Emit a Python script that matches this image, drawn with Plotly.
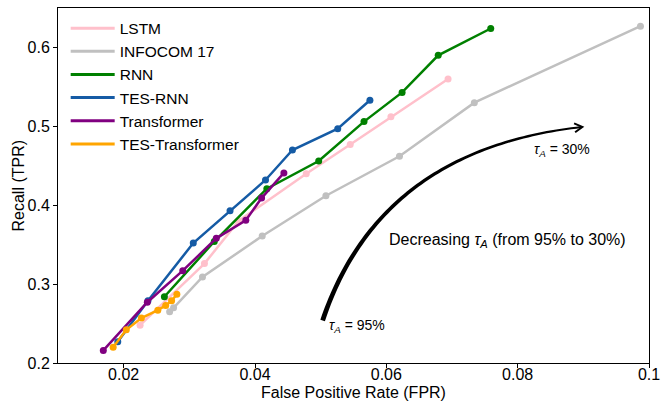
import numpy as np
import plotly.graph_objects as go

# ROC-style operating points (FPR, TPR) for each detector
series_names = ["LSTM", "INFOCOM 17", "RNN", "TES-RNN", "Transformer", "TES-Transformer"]

lstm_fpr = [0.0225, 0.0323, 0.0375, 0.0478, 0.0545, 0.0607, 0.0694]
lstm_tpr = [0.248, 0.326, 0.380, 0.440, 0.477, 0.512, 0.560]

infocom_fpr = [0.0270, 0.0276, 0.0320, 0.0411, 0.0508, 0.0620, 0.0734, 0.0987]
infocom_tpr = [0.265, 0.270, 0.309, 0.361, 0.412, 0.462, 0.530, 0.627]

rnn_fpr = [0.0262, 0.0338, 0.0418, 0.0497, 0.0566, 0.0624, 0.0679, 0.0759]
rnn_tpr = [0.284, 0.354, 0.421, 0.456, 0.506, 0.543, 0.590, 0.624]

tes_rnn_fpr = [0.0191, 0.0237, 0.0306, 0.0362, 0.0416, 0.0457, 0.0526, 0.0575]
tes_rnn_tpr = [0.227, 0.279, 0.352, 0.393, 0.432, 0.470, 0.497, 0.533]

transformer_fpr = [0.0169, 0.0236, 0.0290, 0.0341, 0.0386, 0.0410, 0.0444]
transformer_tpr = [0.216, 0.277, 0.317, 0.358, 0.381, 0.409, 0.441]

tes_transformer_fpr = [0.0184, 0.0204, 0.0227, 0.0252, 0.0264, 0.0273, 0.0281]
tes_transformer_tpr = [0.220, 0.242, 0.257, 0.267, 0.273, 0.279, 0.287]

x_ticks = [0.02, 0.04, 0.06, 0.08, 0.1]
x_tick_text = ["0.02", "0.04", "0.06", "0.08", "0.1"]
y_ticks = [0.2, 0.3, 0.4, 0.5, 0.6]
y_tick_text = ["0.2", "0.3", "0.4", "0.5", "0.6"]

colors = ["pink", "#c0c0c0", "green", "#155ba5", "purple", "orange"]

series = [
    (lstm_fpr, lstm_tpr),
    (infocom_fpr, infocom_tpr),
    (rnn_fpr, rnn_tpr),
    (tes_rnn_fpr, tes_rnn_tpr),
    (transformer_fpr, transformer_tpr),
    (tes_transformer_fpr, tes_transformer_tpr),
]

# Layout geometry
W, H = 666, 403
ML, MR, MT, MB = 58, 17, 8, 40
X_RANGE = [0.01, 0.1]
Y_RANGE = [0.2, 0.65]
PW, PH = W - ML - MR, H - MT - MB
FONT = "Liberation Sans, Arial, sans-serif"

fig = go.Figure()
for name, color, (fx, fy) in zip(series_names, colors, series):
    fig.add_trace(go.Scatter(
        x=fx, y=fy, mode="lines+markers", name=name, legendgroup=name,
        showlegend=False,
        line=dict(color=color, width=2.5),
        marker=dict(color=color, size=7, line=dict(width=0)),
    ))
# legend entries show the line style only
for name, color in zip(series_names, colors):
    fig.add_trace(go.Scatter(
        x=[None], y=[None], mode="lines", name=name, legendgroup=name,
        line=dict(color=color, width=3),
    ))


def to_px(x, y):
    px = ML + (x - X_RANGE[0]) / (X_RANGE[1] - X_RANGE[0]) * PW
    py = MT + (Y_RANGE[1] - y) / (Y_RANGE[1] - Y_RANGE[0]) * PH
    return px, py


def to_data(px, py):
    x = X_RANGE[0] + (px - ML) / PW * (X_RANGE[1] - X_RANGE[0])
    y = Y_RANGE[1] - (py - MT) / PH * (Y_RANGE[1] - Y_RANGE[0])
    return x, y


# Curved, tapering arrow showing the direction of decreasing threshold
arc_start = to_px(0.0503, 0.254)
arc_ctrl = to_px(0.0590, 0.4704)
arc_end = to_px(0.0897, 0.4991)
P0, C, P2 = (np.array(p) for p in (arc_start, arc_ctrl, arc_end))
t = np.linspace(0, 1, 80)[:, None]
pts = (1 - t) ** 2 * P0 + 2 * (1 - t) * t * C + t ** 2 * P2
tan = 2 * (1 - t) * (C - P0) + 2 * t * (P2 - C)
tan = tan / np.linalg.norm(tan, axis=1, keepdims=True)
nrm = np.column_stack([-tan[:, 1], tan[:, 0]])
half_w = (4.8 - 2.8 * t[:, 0]) / 2
left = pts + nrm * half_w[:, None]
right = pts - nrm * half_w[:, None]
poly = np.vstack([left, right[::-1]])
poly_d = [to_data(px, py) for px, py in poly]
path = "M " + " L ".join(f"{x:.6f},{y:.6f}" for x, y in poly_d) + " Z"
fig.add_shape(type="path", path=path, xref="x", yref="y",
              fillcolor="black", line=dict(width=0), layer="above")

# open arrow head at the end of the arc
end_dir = tan[-1]
head_len, head_ang = 9.0, np.deg2rad(30)
tip = pts[-1] + end_dir * 1.0
heads = []
for sgn in (1, -1):
    ca, sa = np.cos(sgn * head_ang), np.sin(sgn * head_ang)
    d = -end_dir
    rot = np.array([d[0] * ca - d[1] * sa, d[0] * sa + d[1] * ca])
    heads.append(tip + rot * head_len)
hp = [to_data(*heads[0]), to_data(*tip), to_data(*heads[1])]
head_path = "M {:.6f},{:.6f} L {:.6f},{:.6f} L {:.6f},{:.6f}".format(
    hp[0][0], hp[0][1], hp[1][0], hp[1][1], hp[2][0], hp[2][1])
fig.add_shape(type="path", path=head_path, xref="x", yref="y",
              line=dict(color="black", width=2), layer="above")

tau = "<i>τ</i><sub><i>A</i></sub>"
fig.add_annotation(x=0.0785, y=0.355, xref="x", yref="y", showarrow=False,
                   text=f"Decreasing {tau} (from 95% to 30%)",
                   font=dict(size=16, color="black", family=FONT))
fig.add_annotation(x=0.0867, y=0.470, xref="x", yref="y", showarrow=False,
                   text=f"{tau} = 30%", font=dict(size=14, color="black", family=FONT))
fig.add_annotation(x=0.0555, y=0.247, xref="x", yref="y", showarrow=False,
                   text=f"{tau} = 95%", font=dict(size=14, color="black", family=FONT))

# axis titles placed in paper coordinates
fig.add_annotation(x=0.5, y=-(393 - (H - MB)) / PH, xref="paper", yref="paper",
                   showarrow=False, xanchor="center", yanchor="middle",
                   text="False Positive Rate (FPR)",
                   font=dict(size=16, color="black", family=FONT))
fig.add_annotation(x=(18 - ML) / PW, y=0.5, xref="paper", yref="paper",
                   showarrow=False, xanchor="center", yanchor="middle", textangle=-90,
                   text="Recall (TPR)",
                   font=dict(size=16, color="black", family=FONT))

axis_common = dict(
    showgrid=False, zeroline=False, showline=True, linecolor="black", linewidth=1,
    mirror=True, ticks="outside", ticklen=4, tickwidth=1, tickcolor="black",
    automargin=False,
    tickfont=dict(size=16, color="black", family=FONT),
)
fig.update_xaxes(range=X_RANGE, tickvals=x_ticks, ticktext=x_tick_text,
                 ticklabelstandoff=-7, **axis_common)
fig.update_yaxes(range=Y_RANGE, tickvals=y_ticks, ticktext=y_tick_text,
                 **axis_common)

fig.update_layout(
    width=W, height=H,
    margin=dict(l=ML, r=MR, t=MT, b=MB),
    paper_bgcolor="white", plot_bgcolor="white",
    font=dict(family=FONT, color="black"),
    legend=dict(x=0.013, y=0.99, xanchor="left", yanchor="top",
                bgcolor="rgba(255,255,255,0.8)", borderwidth=0,
                itemwidth=44,
                font=dict(size=15.5, color="black", family=FONT),
                tracegroupgap=0),
)

fig.write_html("out.html")
